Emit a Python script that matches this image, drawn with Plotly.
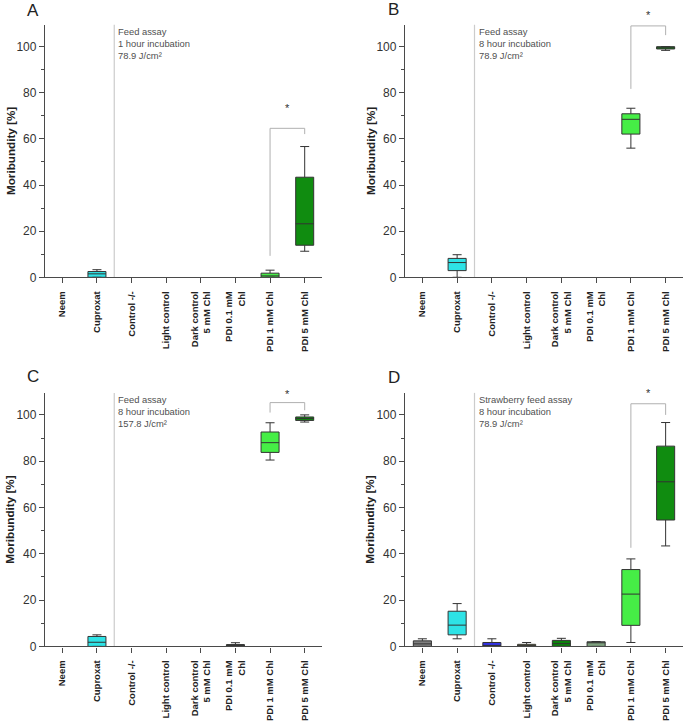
import plotly.graph_objects as go

categories = ["Neem", "Cuproxat", "Control -/-", "Light control",
              "Dark control<br>5 mM Chl", "PDI 0.1 mM<br>Chl", "PDI 1 mM Chl", "PDI 5 mM Chl"]
cat_pos = [0, 1, 2, 3, 4, 5, 6, 7]
colors = ["#808080", "#2ee3e6", "#3333e6", "#e3e38a", "#0b820b", "#7fa27f", "#46ee46", "#108c10"]

panel_letters = ["A", "B", "C", "D"]
panel_notes = ["Feed assay<br>1 hour incubation<br>78.9 J/cm²",
               "Feed assay<br>8 hour incubation<br>78.9 J/cm²",
               "Feed assay<br>8 hour incubation<br>157.8 J/cm²",
               "Strawberry feed assay<br>8 hour incubation<br>78.9 J/cm²"]

# box statistics per panel (None = no data drawn)
A_lo  = [None, 0.0, None, None, None, None, 0.0, 11.3]
A_q1  = [None, 0.0, None, None, None, None, 0.0, 13.9]
A_med = [None, 1.5, None, None, None, None, 0.6, 23.2]
A_q3  = [None, 2.5, None, None, None, None, 1.8, 43.4]
A_hi  = [None, 3.3, None, None, None, None, 3.1, 56.7]

B_lo  = [None, 0.0, None, None, None, None, 56.0, 98.4]
B_q1  = [None, 2.9, None, None, None, None, 62.1, 99.0]
B_med = [None, 6.4, None, None, None, None, 68.5, 99.5]
B_q3  = [None, 8.2, None, None, None, None, 70.9, 100.0]
B_hi  = [None, 9.8, None, None, None, None, 73.3, 100.0]

C_lo  = [None, 0.0, None, None, None, 0.0, 80.5, 96.9]
C_q1  = [None, 0.0, None, None, None, 0.0, 83.8, 97.6]
C_med = [None, 1.8, None, None, None, 0.3, 88.0, 98.4]
C_q3  = [None, 4.3, None, None, None, 0.8, 92.6, 99.1]
C_hi  = [None, 5.0, None, None, None, 1.6, 96.6, 100.0]

D_lo  = [0.0, 3.3, 0.0, 0.0, 0.0, 0.0, 1.7, 43.4]
D_q1  = [0.0, 5.0, 0.0, 0.0, 0.0, 0.0, 9.1, 54.6]
D_med = [1.1, 9.2, 0.3, 0.2, 1.2, 1.9, 22.6, 71.1]
D_q3  = [2.4, 15.2, 1.7, 0.9, 2.6, 2.0, 33.2, 86.5]
D_hi  = [3.3, 18.5, 3.3, 1.7, 3.5, 2.1, 37.8, 96.7]

stats = [(A_lo, A_q1, A_med, A_q3, A_hi), (B_lo, B_q1, B_med, B_q3, B_hi),
         (C_lo, C_q1, C_med, C_q3, C_hi), (D_lo, D_q1, D_med, D_q3, D_hi)]

# significance brackets between PDI 1 mM (6) and PDI 5 mM (7)
bracket_x = [6, 6, 7, 7]
bracket_left = [9.3, 81.7, 101.0, 42.6]
bracket_top = [64.6, 109.0, 105.3, 104.8]
bracket_right = [62.1, 105.0, 102.0, 100.0]
star_y = [73.6, 113.8, 109.0, 109.4]

y_ticks = [0, 20, 40, 60, 80, 100]
y_range = [0, 109.5]
separator_x = 1.5

W, H = 685, 728
x_dom = [[45 / W, 322 / W], [405 / W, 683 / W], [45 / W, 322 / W], [405 / W, 683 / W]]
y_dom = [[1 - 280 / H, 1 - 25 / H], [1 - 280 / H, 1 - 25 / H],
         [1 - 652.7 / H, 1 - 396.7 / H], [1 - 652.7 / H, 1 - 396.7 / H]]
letter_pos = [(33, 11), (393, 10), (33, 380), (394, 381)]
ytitle_x = [10, 370, 10, 370]

axis_color = "#4a4a4a"
fig = go.Figure()

for p in range(4):
    xa = "x" if p == 0 else f"x{p+1}"
    ya = "y" if p == 0 else f"y{p+1}"
    lo, q1, med, q3, hi = stats[p]
    for i, cat in enumerate(categories):
        if q1[i] is None:
            continue
        fig.add_trace(go.Box(
            x=[cat_pos[i]], q1=[q1[i]], median=[med[i]], q3=[q3[i]],
            lowerfence=[lo[i]], upperfence=[hi[i]],
            fillcolor=colors[i], line=dict(color="#333333", width=1),
            width=0.52, whiskerwidth=0.5, boxpoints=False,
            xaxis=xa, yaxis=ya, showlegend=False, hoverinfo="skip"))
    # bracket
    fig.add_trace(go.Scatter(
        x=bracket_x, y=[bracket_left[p], bracket_top[p], bracket_top[p], bracket_right[p]],
        mode="lines", line=dict(color="#b0b0b0", width=1),
        xaxis=xa, yaxis=ya, showlegend=False, hoverinfo="skip"))
    # significance star (placed on the axis' domain scale so it can sit above the range)
    fig.add_annotation(xref=xa, yref=f"{ya} domain", x=6.5,
                       y=(star_y[p] - y_range[0]) / (y_range[1] - y_range[0]),
                       xanchor="center", yanchor="middle", showarrow=False, text="*",
                       font=dict(size=11, color="#333333", family="Arial"))
    # separator
    fig.add_shape(type="line", xref=xa, yref=f"{ya} domain", x0=separator_x, x1=separator_x,
                  y0=0, y1=1, line=dict(color="#cccccc", width=1.2), layer="below")
    # note
    fig.add_annotation(xref=xa, yref=f"{ya} domain", x=separator_x, y=1, xshift=2, yshift=1,
                       xanchor="left", yanchor="top", align="left", showarrow=False,
                       text=panel_notes[p], font=dict(size=9.4, color="#505050", family="Arial"))
    # letter
    lx, ly = letter_pos[p]
    fig.add_annotation(xref="paper", yref="paper", x=lx / W, y=1 - ly / H, xanchor="center",
                       yanchor="middle", showarrow=False, text=panel_letters[p],
                       font=dict(size=17, color="#222222", family="Arial"))
    # y title
    fig.add_annotation(xref="paper", yref="paper", x=ytitle_x[p] / W,
                       y=(y_dom[p][0] + y_dom[p][1]) / 2, xanchor="center", yanchor="middle",
                       textangle=-90, showarrow=False, text="<b>Moribundity [%]</b>",
                       font=dict(size=11.7, color="#222222", family="Arial"))

    key = "" if p == 0 else str(p + 1)
    fig.layout["xaxis" + key] = dict(
        domain=x_dom[p], anchor=ya, range=[-0.5, 7.5],
        tickmode="array", tickvals=cat_pos, ticktext=[f"<b>{c}</b>" for c in categories],
        tickangle=-90, ticks="outside", ticklen=5, tickwidth=1.2, tickcolor=axis_color,
        showline=True, linecolor=axis_color, linewidth=1.3, showgrid=False, zeroline=False,
        tickfont=dict(size=9.5, color="#222222", family="Arial"), ticklabelstandoff=4,
        fixedrange=True)
    fig.layout["yaxis" + key] = dict(
        domain=y_dom[p], anchor=xa, range=y_range, tickvals=y_ticks,
        ticks="outside", ticklen=5, tickwidth=1.2, tickcolor=axis_color,
        minor=dict(dtick=10, tick0=0, ticks="outside", ticklen=3, tickcolor=axis_color, tickwidth=1),
        showline=True, linecolor=axis_color, linewidth=1.3, showgrid=False, zeroline=False,
        tickfont=dict(size=12, color="#333333", family="Arial"), fixedrange=True)

fig.update_layout(width=W, height=H, margin=dict(l=0, r=0, t=0, b=0),
                  paper_bgcolor="white", plot_bgcolor="white", showlegend=False)

fig.write_html("out.html", config={"displayModeBar": False},
               post_script="document.body.style.margin='0';document.body.style.overflow='hidden';")
